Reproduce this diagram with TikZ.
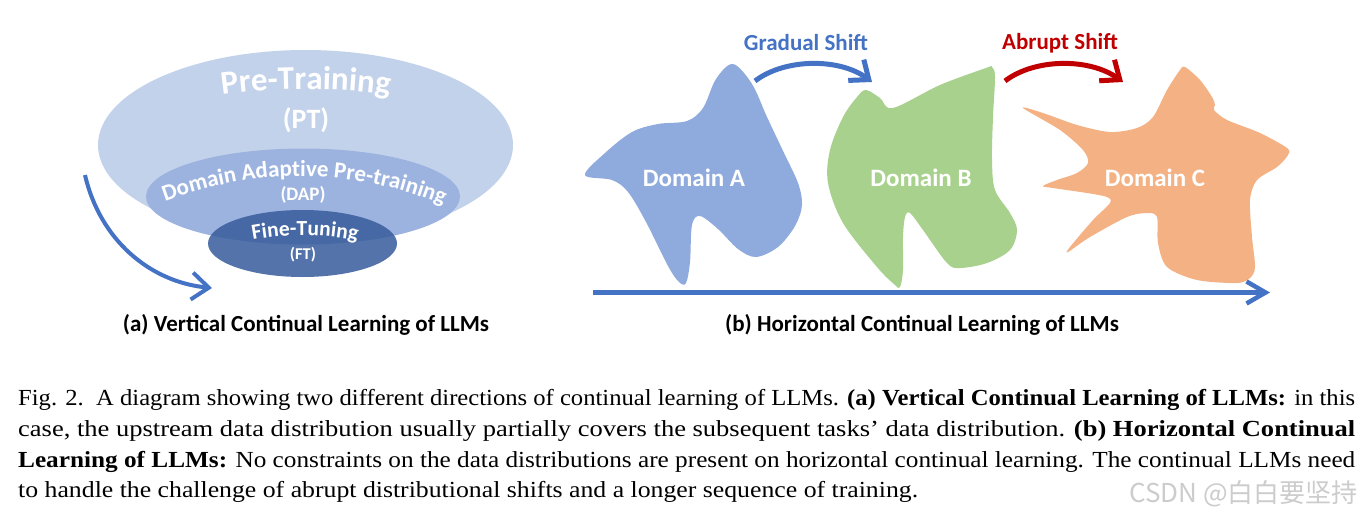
\documentclass[tikz,border=0pt]{standalone}
\usepackage{fontspec}
\usepackage{graphicx}
\setmainfont{Liberation Serif}
\newfontfamily\capfont[FakeStretch=1.12]{Liberation Serif}
\newfontfamily\cali{Carlito}
\newfontfamily\cjkfont{Noto Sans CJK SC}
\usetikzlibrary{arrows.meta,decorations.text}
\definecolor{ptcol}{HTML}{C3D2EB}
\definecolor{dapcol}{HTML}{9DB3DF}
\definecolor{ftcol}{HTML}{375B9C}
\definecolor{acc}{HTML}{4472C4}
\definecolor{redacc}{HTML}{C00000}
\definecolor{blobA}{HTML}{8FAADC}
\definecolor{blobB}{HTML}{A9D18E}
\definecolor{blobC}{HTML}{F4B183}
\newcommand\arctxt[3]{% font, text, path
  \path[decorate, decoration={text along path, text align=center,
    text={|#1\color{white}|#2}}] #3;}
\newcommand\fullline[1]{\resizebox{1337pt}{\height}{#1}}
\begin{document}
\begin{tikzpicture}[x=1pt,y=-1pt,
  shiftarrow/.style={line width=5pt, -{Straight Barb[length=16pt,width=26pt]}},
  axisarrow/.style={line width=4.5pt, acc, -{Straight Barb[length=19pt,width=22pt]}},
  sublabel/.style={font=\cali\bfseries\fontsize{23}{26}\selectfont, inner sep=0pt},
  shiftlabel/.style={font=\cali\bfseries\fontsize{23}{26}\selectfont, inner sep=0pt},
  domlabel/.style={font=\cali\bfseries\fontsize{25}{26}\selectfont, inner sep=0pt, text=white},
  whitelabel/.style={inner sep=0pt, text=white},
  capline/.style={anchor=base west, inner sep=0pt, font=\capfont\fontsize{23}{28}\selectfont}]
\useasboundingbox (0,0) rectangle (1362,517);
\fill[white] (0,0) rectangle (1362,517);

% ---------- (a) vertical ----------
\fill[ptcol] (305.5,145) ellipse [x radius=207.5, y radius=95];
\fill[dapcol] (303,196.5) ellipse [x radius=157, y radius=48];
\fill[ftcol, opacity=0.85] (302.5,243.5) ellipse [x radius=94.5, y radius=33.5];

\arctxt{\cali\bfseries\fontsize{33}{33}\selectfont}{Pre-Training}{(200,99) .. controls (256,86) and (356,86) .. (412,99)}
\node[whitelabel, font=\cali\bfseries\fontsize{28}{28}\selectfont] (pt) at (306,120) {(PT)};
\arctxt{\cali\bfseries\fontsize{23}{23}\selectfont}{Domain Adaptive Pre-training}{(155,205) .. controls (255,166) and (353,166) .. (453,209)}
\node[whitelabel, font=\cali\bfseries\fontsize{19}{19}\selectfont] (dap) at (303,195) {(DAP)};
\arctxt{\cali\bfseries\fontsize{21.5}{21.5}\selectfont}{Fine-Tuning}{(244,242) .. controls (281,233) and (329,233) .. (366,243)}
\node[whitelabel, font=\cali\bfseries\fontsize{16.5}{16.5}\selectfont] (ft) at (303,255) {(FT)};

\coordinate (va) at (85,175);
\coordinate (vb) at (212,288);
\draw[line width=4pt, acc, -{Straight Barb[length=17pt,width=27pt]}] (va) .. controls (100,240) and (150,282) .. (vb);

\node[sublabel] (capa) at (306,325) {(a) Vertical Continual Learning of LLMs};

% ---------- (b) horizontal ----------
\fill[blobA] plot[smooth cycle, tension=0.55] coordinates {
 (733,64) (752,84) (767,117) (784,153) (798,183) (802,205) (795,226) (778,247)
 (756,257) (738,249) (718,229) (700,216) (692,225) (690,262) (686,283) (679,282)
 (668,266) (646,222) (628,192) (612,180) (585,175) (605,153) (632,132) (658,124)
 (687,121) (703,108) (716,79)};
\fill[blobB] plot[smooth cycle, tension=0.55] coordinates {
 (866,90) (880,98) (893,108) (940,85) (986,68) (992,67) (995,77) (993,117)
 (992,160) (995,190) (1010,213) (1017,230) (1010,250) (987,263) (960,268)
 (947,263) (923,230) (910,213) (905,217) (903,237) (903,270) (900,287) (895,285)
 (877,267) (843,223) (828,183) (830,150) (843,117) (857,97)};
\fill[blobC] plot[smooth cycle, tension=0.5] coordinates {
 (1185,67) (1200,80) (1212,97) (1215,105) (1214,110) (1227,120) (1260,133)
 (1287,148) (1288,155) (1277,167) (1257,180) (1250,200) (1252,237) (1255,267)
 (1250,278) (1237,283) (1197,280) (1167,267) (1158,243) (1157,217) (1147,213)
 (1127,217) (1090,237) (1068,252) (1070,247) (1093,220) (1110,203) (1107,197)
 (1087,193) (1053,188) (1043,186) (1057,180) (1077,173) (1088,163) (1083,150)
 (1060,130) (1023,108) (1043,113) (1077,125) (1110,132) (1137,128) (1153,117)
 (1167,90) (1180,70)};

\node[domlabel] (da) at (694,178) {Domain A};
\node[domlabel] (db) at (921,178) {Domain B};
\node[domlabel] (dc) at (1155,178) {Domain C};

\coordinate (g1) at (755,81);
\coordinate (g2) at (872,82);
\coordinate (r1) at (1005,81);
\coordinate (r2) at (1123,82);
\draw[shiftarrow, acc] (g1) .. controls (785,58) and (840,58) .. (g2);
\draw[shiftarrow, redacc] (r1) .. controls (1035,58) and (1090,58) .. (r2);
\node[shiftlabel, text=acc] (gs) at (806,43) {Gradual Shift};
\node[shiftlabel, text=redacc] (as) at (1060,43) {Abrupt Shift};

\coordinate (ax1) at (593,292.5);
\coordinate (ax2) at (1270,292.5);
\draw[axisarrow] (ax1) -- (ax2);

\node[sublabel] (capb) at (922,325) {(b) Horizontal Continual Learning of LLMs};

% ---------- caption ----------
\node[capline] (l1) at (18,405) {\fullline{Fig. 2.\ \ A diagram showing two different directions of continual learning of LLMs. \textbf{(a) Vertical Continual Learning of LLMs:} in this}};
\node[capline] (l2) at (18,436) {\fullline{case, the upstream data distribution usually partially covers the subsequent tasks’ data distribution. \textbf{(b) Horizontal Continual}}};
\node[capline] (l3) at (18,467) {\fullline{\textbf{Learning of LLMs:} No constraints on the data distributions are present on horizontal continual learning. The continual LLMs need}};
\node[capline] (l4) at (18,497) {to handle the challenge of abrupt distributional shifts and a longer sequence of training.};
\node[anchor=base east, inner sep=0pt, text=black!20, font=\cjkfont\fontsize{26}{26}\selectfont] (wm) at (1358,502) {CSDN @白白要坚持};
\end{tikzpicture}
\end{document}
